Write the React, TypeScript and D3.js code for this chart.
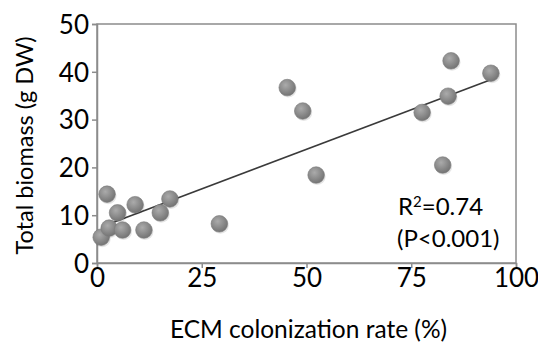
import { useEffect, useRef } from "react";
import * as d3 from "d3";

// ECM colonization rate (%) vs total biomass (g DW)
const colonization = [1.0, 2.4, 2.9, 4.9, 6.1, 9.1, 11.2, 15.1, 17.4, 29.2, 45.4, 49.1, 52.3, 77.6, 82.5, 83.8, 84.5, 94.0];
const biomass = [5.4, 14.4, 7.3, 10.5, 6.9, 12.2, 6.9, 10.5, 13.4, 8.2, 36.7, 31.8, 18.4, 31.5, 20.5, 34.9, 42.3, 39.7];

// fitted trend line endpoints (x, y)
const trendX = [1.1, 93.8];
const trendY = [7.6, 38.3];

const xTicks = [0, 25, 50, 75, 100];
const yTicks = [0, 10, 20, 30, 40, 50];
const annotations = ["=0.74", "(P<0.001)"];

const W = 538;
const H = 342;
const margin = { top: 24, right: 22, bottom: 79, left: 97 };
const font = "Lato, 'Open Sans', sans-serif";

export default function App() {
  const svgRef = useRef<SVGSVGElement>(null);

  useEffect(() => {
    const svg = d3.select(svgRef.current);
    svg.selectAll("*").remove();

    const bw = W - margin.left - margin.right;
    const bh = H - margin.top - margin.bottom;

    const x = d3.scaleLinear().domain([0, 100]).range([0, bw]);
    const y = d3.scaleLinear().domain([0, 50]).range([bh, 0]);

    const defs = svg.append("defs");
    const grad = defs
      .append("radialGradient")
      .attr("id", "dot")
      .attr("cx", "40%")
      .attr("cy", "35%")
      .attr("r", "65%");
    grad.append("stop").attr("offset", "0%").attr("stop-color", "#ababab");
    grad.append("stop").attr("offset", "100%").attr("stop-color", "#747474");

    const g = svg
      .append("g")
      .attr("transform", `translate(${margin.left},${margin.top})`);

    // frame
    g.append("rect")
      .attr("width", bw)
      .attr("height", bh)
      .attr("fill", "none")
      .attr("stroke", "#8c8c8c")
      .attr("stroke-width", 1.5);

    const xAxis = g
      .append("g")
      .attr("transform", `translate(0,${bh})`)
      .call(d3.axisBottom(x).tickValues(xTicks).tickSize(5).tickPadding(4));
    const yAxis = g
      .append("g")
      .call(d3.axisLeft(y).tickValues(yTicks).tickSize(5).tickPadding(5));

    [xAxis, yAxis].forEach((a) => {
      a.select(".domain").attr("stroke", "#8c8c8c").attr("stroke-width", 1.5);
      a.selectAll(".tick line").attr("stroke", "#8c8c8c").attr("stroke-width", 1.5);
      a.selectAll(".tick text")
        .attr("fill", "#000")
        .style("font-family", font)
        .style("font-size", "26px");
    });
    xAxis.selectAll(".tick text").attr("dy", "0.7em").attr("y", 6);
    yAxis.selectAll(".tick text").attr("dy", "0.36em").attr("x", -8);

    // trend line
    g.append("line")
      .attr("x1", x(trendX[0]))
      .attr("y1", y(trendY[0]))
      .attr("x2", x(trendX[1]))
      .attr("y2", y(trendY[1]))
      .attr("stroke", "#3a3a3a")
      .attr("stroke-width", 1.6);

    const pts = colonization.map((c, i) => ({ c, b: biomass[i] }));

    g.selectAll(".shadow")
      .data(pts)
      .enter()
      .append("circle")
      .attr("cx", (d) => x(d.c) + 1)
      .attr("cy", (d) => y(d.b) + 1.5)
      .attr("r", 8.5)
      .attr("fill", "#000")
      .attr("opacity", 0.1);

    g.selectAll(".dot")
      .data(pts)
      .enter()
      .append("circle")
      .attr("cx", (d) => x(d.c))
      .attr("cy", (d) => y(d.b))
      .attr("r", 8.3)
      .attr("fill", "url(#dot)")
      .attr("stroke", "#7a7a7a")
      .attr("stroke-width", 0.6);

    // R2 annotation
    const r2 = g
      .append("text")
      .attr("x", 301)
      .attr("y", 191)
      .style("font-family", font)
      .style("font-size", "24px")
      .attr("fill", "#000");
    r2.append("tspan").text("R");
    r2.append("tspan").attr("dy", -8).style("font-size", "15px").text("2");
    r2.append("tspan").attr("dy", 8).text(annotations[0]);

    g.append("text")
      .attr("x", 300)
      .attr("y", 223)
      .style("font-family", font)
      .style("font-size", "24px")
      .attr("fill", "#000")
      .text(annotations[1]);

    // axis titles
    g.append("text")
      .attr("x", bw / 2 + 2)
      .attr("y", bh + 75)
      .attr("text-anchor", "middle")
      .style("font-family", font)
      .style("font-size", "24.5px")
      .attr("fill", "#000")
      .text("ECM colonization rate (%)");

    g.append("text")
      .attr("transform", `translate(-64,${bh / 2 + 2}) rotate(-90)`)
      .attr("text-anchor", "middle")
      .style("font-family", font)
      .style("font-size", "23.5px")
      .attr("fill", "#000")
      .text("Total biomass (g DW)");
  }, []);

  return (
    <svg
      ref={svgRef}
      width={W}
      height={H}
      style={{ position: "absolute", left: 0, top: 0, background: "#fff" }}
    />
  );
}
